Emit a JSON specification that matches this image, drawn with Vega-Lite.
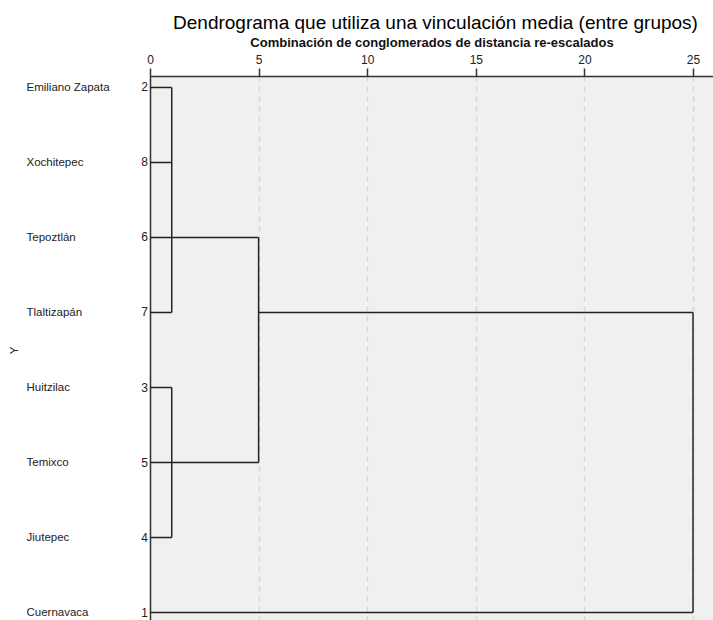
{
  "$schema": "https://vega.github.io/schema/vega-lite/v6.json",
  "width": 563,
  "height": 548,
  "autosize": {"type": "none"},
  "padding": {"left": 150, "top": 76, "right": 0, "bottom": 0},
  "background": "white",
  "config": {
    "view": {"fill": "#f0f0f0", "stroke": null},
    "font": "Liberation Sans"
  },
  "title": {
    "text": "Dendrograma que utiliza una vinculación media (entre grupos)",
    "fontSize": 19,
    "fontWeight": "normal",
    "font": "Liberation Sans",
    "color": "#000000",
    "anchor": "middle",
    "frame": "group",
    "offset": 3,
    "dx": 4
  },
  "datasets": {
    "segs": [
      {"d1": 0, "d2": 1, "r1": "Emiliano Zapata", "r2": "Emiliano Zapata"},
      {"d1": 0, "d2": 1, "r1": "Xochitepec", "r2": "Xochitepec"},
      {"d1": 0, "d2": 1, "r1": "Tlaltizapán", "r2": "Tlaltizapán"},
      {"d1": 0, "d2": 5, "r1": "Tepoztlán", "r2": "Tepoztlán"},
      {"d1": 0, "d2": 1, "r1": "Huitzilac", "r2": "Huitzilac"},
      {"d1": 0, "d2": 1, "r1": "Jiutepec", "r2": "Jiutepec"},
      {"d1": 0, "d2": 5, "r1": "Temixco", "r2": "Temixco"},
      {"d1": 5, "d2": 25, "r1": "Tlaltizapán", "r2": "Tlaltizapán"},
      {"d1": 0, "d2": 25, "r1": "Cuernavaca", "r2": "Cuernavaca"},
      {"d1": 1, "d2": 1, "r1": "Emiliano Zapata", "r2": "Tlaltizapán"},
      {"d1": 1, "d2": 1, "r1": "Huitzilac", "r2": "Jiutepec"},
      {"d1": 5, "d2": 5, "r1": "Tepoztlán", "r2": "Temixco"},
      {"d1": 25, "d2": 25, "r1": "Tlaltizapán", "r2": "Cuernavaca"}
    ],
    "leaves": [
      {"name": "Emiliano Zapata", "case": "2"},
      {"name": "Xochitepec", "case": "8"},
      {"name": "Tepoztlán", "case": "6"},
      {"name": "Tlaltizapán", "case": "7"},
      {"name": "Huitzilac", "case": "3"},
      {"name": "Temixco", "case": "5"},
      {"name": "Jiutepec", "case": "4"},
      {"name": "Cuernavaca", "case": "1"}
    ]
  },
  "layer": [
    {
      "data": {"name": "segs"},
      "mark": {"type": "rule", "color": "#222222", "strokeWidth": 1.5},
      "encoding": {
        "x": {
          "field": "d1",
          "type": "quantitative",
          "scale": {"domain": [0, 25.92], "nice": false, "zero": false},
          "axis": {
            "orient": "top",
            "values": [0, 5, 10, 15, 20, 25],
            "title": "Combinación de conglomerados de distancia re-escalados",
            "titleFontSize": 13,
            "titleFontWeight": "bold",
            "titleColor": "#111111",
            "titlePadding": 4,
            "labelFontSize": 12,
            "labelColor": "#222222",
            "labelPadding": 2,
            "labelFlush": false,
            "domainColor": "#333333",
            "domainWidth": 1.5,
            "tickColor": "#333333",
            "tickWidth": 1.5,
            "tickSize": 8,
            "grid": true,
            "gridColor": "#d6d6d6",
            "gridWidth": 1.5,
            "gridDash": [5, 5]
          }
        },
        "x2": {"field": "d2"},
        "y": {
          "field": "r1",
          "type": "nominal",
          "scale": {
            "type": "point",
            "padding": 0.153,
            "domain": ["Emiliano Zapata", "Xochitepec", "Tepoztlán", "Tlaltizapán", "Huitzilac", "Temixco", "Jiutepec", "Cuernavaca"]
          },
          "axis": {
            "orient": "left",
            "title": "Y",
            "titleX": -136,
            "titleY": 274,
            "titleAngle": 270,
            "titleAlign": "center",
            "titleBaseline": "middle",
            "titleFontSize": 11.5,
            "titleFontWeight": "normal",
            "titleColor": "#222222",
            "ticks": false,
            "tickSize": 0,
            "labelAlign": "left",
            "labelBaseline": "middle",
            "labelPadding": 124,
            "labelFontSize": 11.5,
            "labelColor": "#222222",
            "labelLimit": 0,
            "domainColor": "#333333",
            "domainWidth": 1.5,
            "grid": false
          }
        },
        "y2": {"field": "r2"}
      }
    },
    {
      "data": {"name": "leaves"},
      "mark": {"type": "text", "align": "right", "baseline": "middle", "dx": -2, "fontSize": 12, "color": "#222222"},
      "encoding": {
        "x": {"datum": 0, "type": "quantitative", "axis": {"title": "Combinación de conglomerados de distancia re-escalados"}},
        "y": {
          "field": "name",
          "type": "nominal",
          "axis": {"title": "Y"}
        },
        "text": {"field": "case"}
      }
    }
  ]
}
